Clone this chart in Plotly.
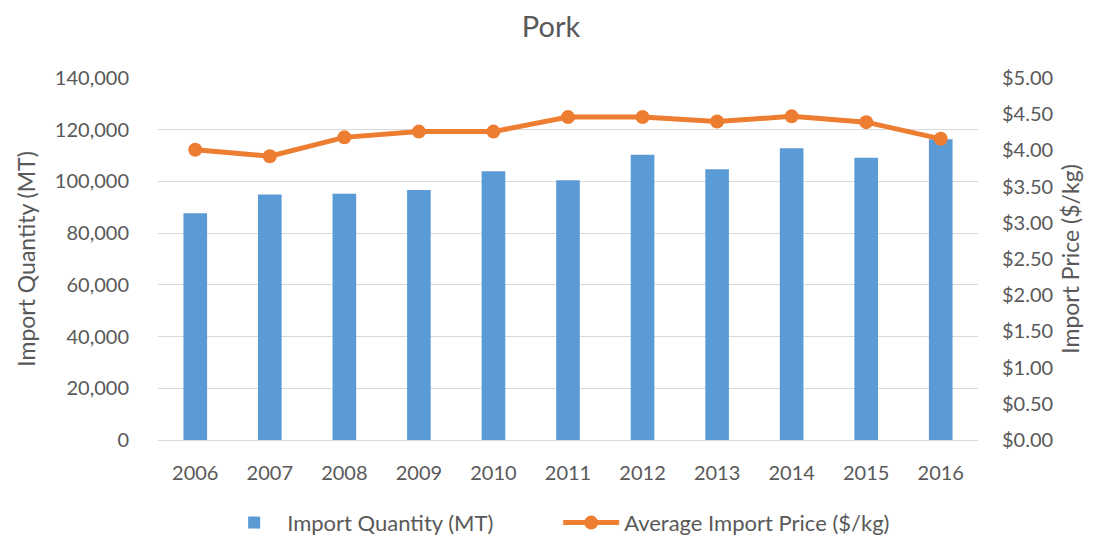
import plotly.graph_objects as go

years = ["2006", "2007", "2008", "2009", "2010", "2011", "2012", "2013", "2014", "2015", "2016"]
quantity_mt = [87700, 94900, 95200, 96700, 103900, 100500, 110300, 104700, 112800, 109200, 116300]
avg_price = [4.01, 3.92, 4.18, 4.26, 4.26, 4.46, 4.46, 4.40, 4.47, 4.39, 4.16]

left_ticks = [0, 20000, 40000, 60000, 80000, 100000, 120000, 140000]
right_ticks = [0, 0.5, 1, 1.5, 2, 2.5, 3, 3.5, 4, 4.5, 5]

FONT = "Lato"
GREY = "#595959"

fig = go.Figure()
fig.add_trace(go.Bar(
    x=years, y=quantity_mt, name="Import Quantity (MT)",
    marker=dict(color="#5B9BD5", line=dict(width=0)),
    yaxis="y",
))
fig.add_trace(go.Scatter(
    x=years, y=avg_price, name="Average Import Price ($/kg)",
    mode="lines+markers",
    line=dict(color="#ED7D31", width=5),
    marker=dict(color="#ED7D31", size=14),
    yaxis="y2",
))

fig.update_layout(
    width=1086, height=534,
    paper_bgcolor="white", plot_bgcolor="white",
    margin=dict(l=150, r=116, t=70, b=102),
    font=dict(family=FONT, color=GREY, size=20),
    title=dict(text="Pork", x=0.5, xanchor="center", y=0.964, yanchor="middle",
               yref="container",
               font=dict(size=29, color=GREY, family=FONT)),
    bargap=0.683,
    showlegend=True,
    legend=dict(orientation="h", x=0.488, xanchor="center",
                yref="container", y=0.036, yanchor="middle",
                font=dict(size=22, color=GREY), itemwidth=56,
                entrywidth=266, entrywidthmode="pixels", traceorder="normal"),
    xaxis=dict(
        range=[-0.5, 10.5], automargin=False,
        showgrid=False, showline=True, linecolor="#d9d9d9", linewidth=1,
        tickfont=dict(size=20, color=GREY), ticklabelstandoff=15,
    ),
    yaxis=dict(
        range=[0, 140000], tickvals=left_ticks,
        ticktext=[f"{v:,}" for v in left_ticks],
        showgrid=True, gridcolor="#d9d9d9", gridwidth=1,
        zeroline=False, showline=False,
        tickfont=dict(size=20, color=GREY), ticklabelstandoff=28,
        title=dict(text="Import Quantity (MT)", font=dict(size=23, color=GREY), standoff=12),
        automargin=False,
    ),
    yaxis2=dict(
        range=[0, 5], tickvals=right_ticks,
        ticktext=[f"${v:.2f}" for v in right_ticks],
        overlaying="y", side="right",
        showgrid=False, zeroline=False, showline=False,
        tickfont=dict(size=20, color=GREY), ticklabelstandoff=23,
        title=dict(text="Import Price ($/kg)", font=dict(size=23, color=GREY), standoff=10),
        automargin=False,
    ),
)

fig.write_html("out.html")
